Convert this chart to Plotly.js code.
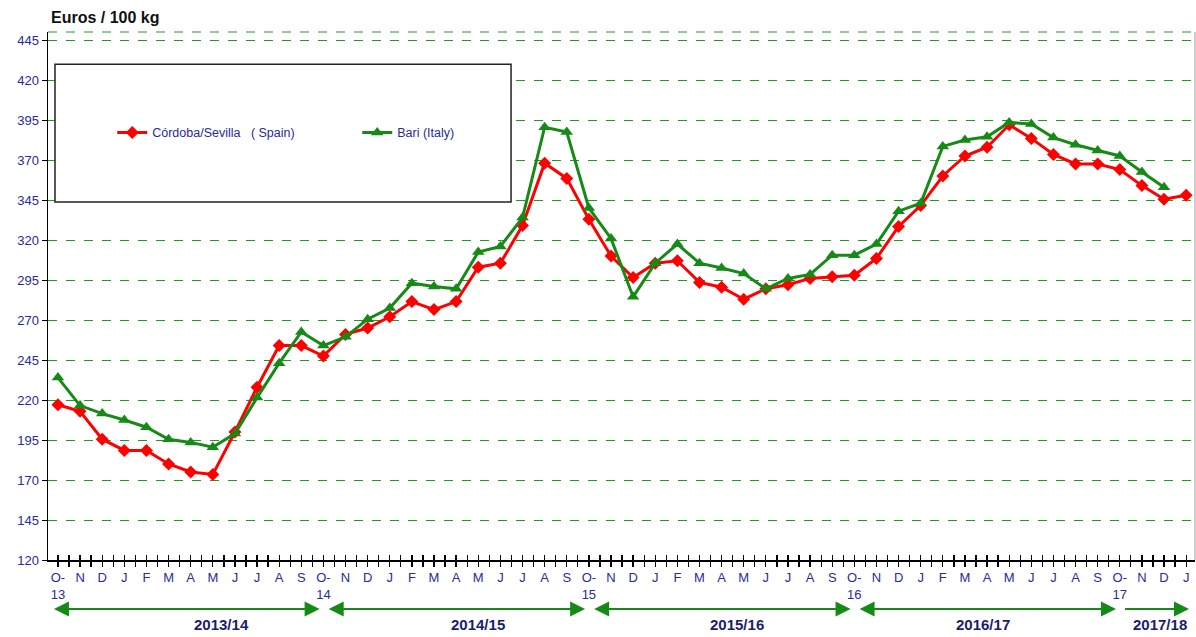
<!DOCTYPE html>
<html><head><meta charset="utf-8">
<script src="https://cdn.plot.ly/plotly-3.0.1.min.js"></script>
<style>html,body{margin:0;padding:0;background:#fff;}#chart{width:1196px;height:637px;}</style>
</head><body><div id="chart"></div>
<script>
// Month tick labels (Oct 2013 .. Jan 2018)
const monthLabels = [
 'O-<br>13','N','D','J','F','M','A','M','J','J','A','S',
 'O-<br>14','N','D','J','F','M','A','M','J','J','A','S',
 'O-<br>15','N','D','J','F','M','A','M','J','J','A','S',
 'O-<br>16','N','D','J','F','M','A','M','J','J','A','S',
 'O-<br>17','N','D','J'
];
// Córdoba/Sevilla (Spain), Euros / 100 kg
const spain = [
 217,213,195.5,188.5,188.5,180,175,173.5,200,228,254,254,
 247.5,261,265,272,281.5,276.5,281.5,303,305.5,329,368,358.5,
 333,310,296.5,305.5,307,293.5,290.5,283,289.5,292,296,297,
 298,308.5,328.5,341.5,360,372.5,378,392,383.5,373.5,367.5,367.5,
 364,354,345.5,348
];
// Bari (Italy), Euros / 100 kg
const bari = [
 234,216.5,211.5,207.5,203,195.5,193.5,190.5,199,221.5,243,262.5,
 254,259.5,270.5,277.5,293,291,289.5,312.5,316,334,390.5,387.5,
 340,321,284.5,305.5,317.5,305.5,302.5,299,289.5,296,298.5,310.5,
 310.5,317.5,338,343,378.5,382.5,384.5,393.5,392.5,384,379.5,376,
 372.5,362.5,353,null
];
// Marketing seasons: label, first month index, last month index
const seasons = [
 {label:'2013/14', start:0,  end:12, both:true},
 {label:'2014/15', start:12, end:24, both:true},
 {label:'2015/16', start:24, end:36, both:true},
 {label:'2016/17', start:36, end:48, both:true},
 {label:'2017/18', start:48, end:51.3, both:false}
];
const seasonLabelX = [7.4, 19, 30.7, 41.8, 49.8];

const idx = monthLabels.map((_, i) => i);
const navy = '#2a2a9c';
const green = '#168a16';

const traces = [
 {x: idx, y: spain, name: 'Córdoba/Sevilla\u00a0\u00a0\u00a0( Spain)', mode: 'lines+markers',
  line: {color: '#ff0000', width: 3}, marker: {symbol: 'diamond', size: 10, color: '#ff0000'}},
 {x: idx, y: bari, name: 'Bari (Italy)', mode: 'lines+markers',
  line: {color: green, width: 3}, marker: {symbol: 'triangle-up', size: 11, color: green}},
 {x: idx, y: spain, xaxis: 'x2', mode: 'lines', opacity: 0, showlegend: false, hoverinfo: 'skip'}
];

// tick positions every half month
const halfTicks = [];
for (let i = 0; i < monthLabels.length; i++) { halfTicks.push(i); halfTicks.push(i + 0.5); }
const halfText = [];
monthLabels.forEach(l => { halfText.push(l); halfText.push(''); });

const annotations = [
 {xref: 'paper', yref: 'paper', x: 0.001, y: 1.028, xanchor: 'left', yanchor: 'middle',
  text: '<b>Euros / 100 kg</b>', showarrow: false, font: {size: 16, color: '#111'}}
];
seasons.forEach((s, k) => {
 const x0 = s.start === 0 ? s.start - 0.25 : s.start + 0.17;
 const x1 = s.end - 0.17;
 annotations.push({xref: 'x', yref: 'paper', x: x1, y: -0.093, axref: 'x', ayref: 'pixel',
  ax: x0, ay: 0, text: '', showarrow: true, arrowhead: 2, arrowsize: 1.5, arrowwidth: 2,
  arrowcolor: green, arrowside: s.both ? 'end+start' : 'end', standoff: 0, startstandoff: 0});
 annotations.push({xref: 'x', yref: 'paper', x: seasonLabelX[k], y: -0.123, text: '<b>' + s.label + '</b>',
  showarrow: false, xanchor: 'center', yanchor: 'middle', font: {size: 15, color: '#1c1c6e'}});
});

const layout = {
 width: 1196, height: 637,
 margin: {l: 48, r: 1, t: 32, b: 77},
 paper_bgcolor: '#fff', plot_bgcolor: '#fff',
 font: {family: 'Liberation Sans, Arial, sans-serif', color: navy},
 showlegend: true,
 legend: {orientation: 'h', x: 0.056, y: 0.809, xanchor: 'left', yanchor: 'middle',
  bgcolor: 'rgba(0,0,0,0)', borderwidth: 0, font: {size: 12.5, color: navy},
  entrywidth: 200, entrywidthmode: 'pixels'},
 xaxis: {range: [-0.45, 51.4], tickmode: 'array', tickvals: halfTicks, ticktext: halfText,
  ticks: 'outside', ticklen: 5, tickwidth: 1.3, tickcolor: '#000', showgrid: false, zeroline: false,
  showline: true, linecolor: '#000', linewidth: 1.5, tickfont: {size: 13, color: navy}, fixedrange: true},
 xaxis2: {range: [-0.45, 51.4], overlaying: 'x', anchor: 'y', side: 'bottom', tickmode: 'array',
  tickvals: halfTicks, showticklabels: false, ticks: 'inside', ticklen: 5, tickwidth: 1.3, tickcolor: '#000',
  showgrid: false, zeroline: false, showline: false},
 yaxis: {range: [120, 450], tick0: 120, dtick: 25, ticks: 'outside', ticklen: 5, tickcolor: '#000',
  showline: true, linecolor: '#000', linewidth: 1.5, showgrid: true, gridcolor: '#229922', gridwidth: 1,
  griddash: 'dash', zeroline: false, tickfont: {size: 13, color: navy}, fixedrange: true},
 shapes: [
  {type: 'line', xref: 'paper', yref: 'paper', x0: 0, x1: 1, y0: 1, y1: 1,
   line: {color: '#229922', width: 1, dash: 'dash'}},
  {type: 'line', xref: 'paper', yref: 'paper', x0: 1, x1: 1, y0: 0, y1: 1,
   line: {color: '#999', width: 1}},
  {type: 'rect', xref: 'paper', yref: 'paper', x0: 0.0061, x1: 0.4037, y0: 0.678, y1: 0.939,
   fillcolor: '#fff', line: {color: '#222', width: 1.5}, layer: 'above'}
 ],
 annotations: annotations
};

Plotly.newPlot('chart', traces, layout, {displayModeBar: false, staticPlot: true});
</script>
</body></html>
